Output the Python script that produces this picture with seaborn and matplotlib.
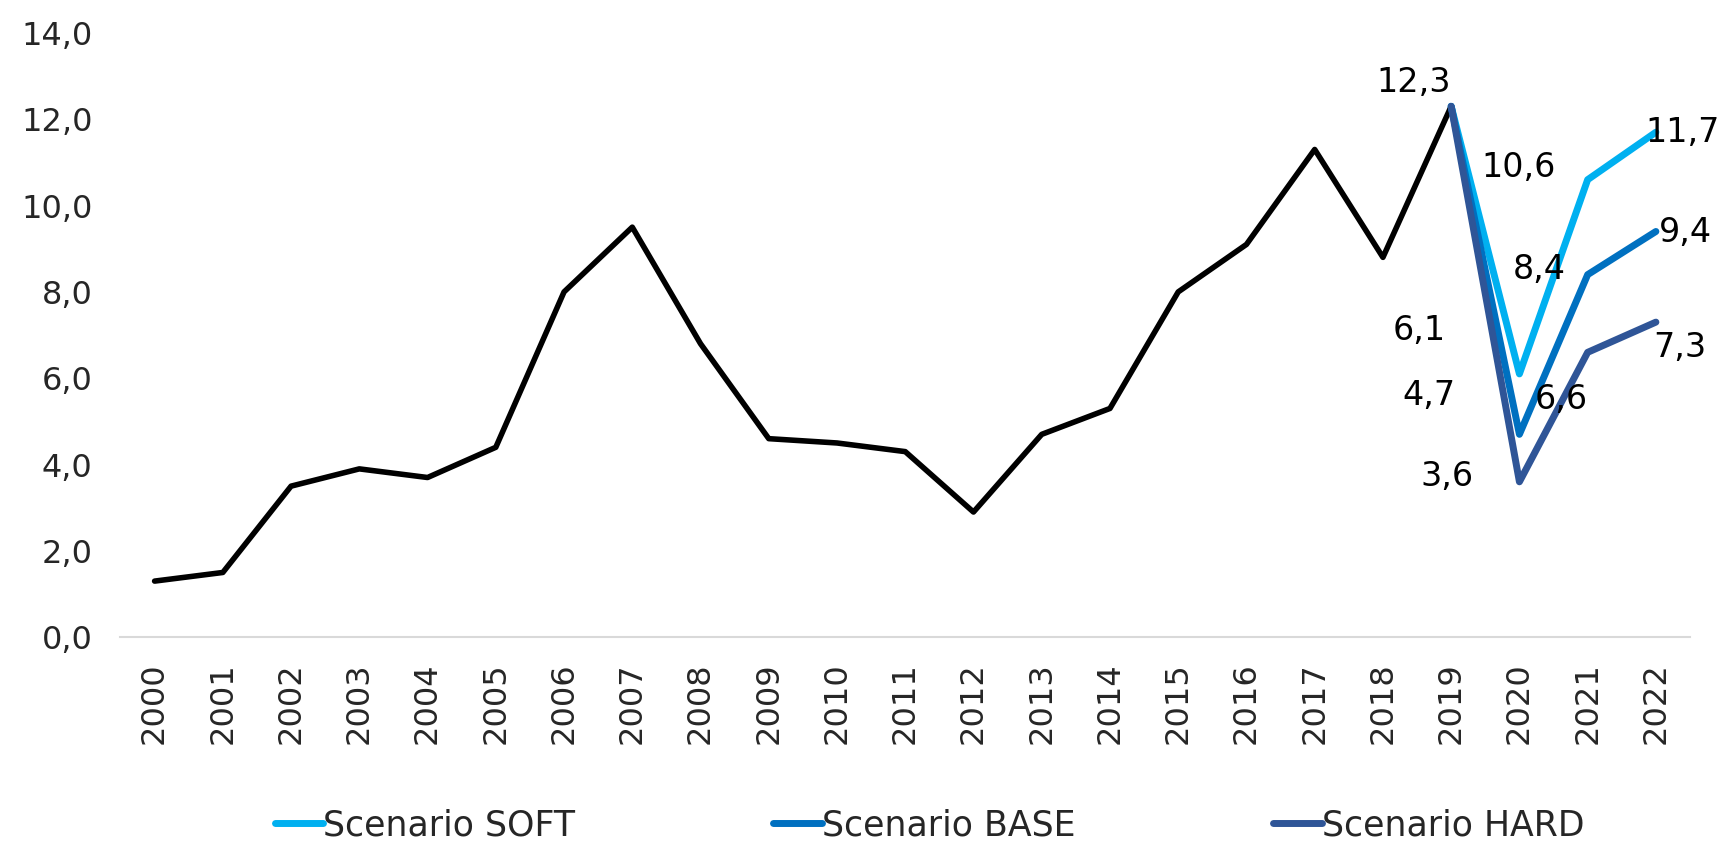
import numpy as np
import pandas as pd
import seaborn as sns
import matplotlib.pyplot as plt
from matplotlib.ticker import FuncFormatter

# historical series 2000-2019
years_hist = list(range(2000, 2020))
values_hist = [1.3, 1.5, 3.5, 3.9, 3.7, 4.4, 8.0, 9.5, 6.8, 4.6,
               4.5, 4.3, 2.9, 4.7, 5.3, 8.0, 9.1, 11.3, 8.8, 12.3]

# scenarios 2019-2022
years_scen = [2019, 2020, 2021, 2022]
soft_values = [12.3, 6.1, 10.6, 11.7]
base_values = [12.3, 4.7, 8.4, 9.4]
hard_values = [12.3, 3.6, 6.6, 7.3]
scenario_names = ["Scenario SOFT", "Scenario BASE", "Scenario HARD"]
scenario_colors = ["#00B0F0", "#0070C0", "#2F5597"]

sns.set_theme(style="white")
plt.rcParams['font.family'] = ['DejaVu Sans']

hist_df = pd.DataFrame({"year": years_hist, "value": values_hist})
scen_df = pd.concat([
    pd.DataFrame({"year": years_scen, "value": v, "scenario": n})
    for n, v in zip(scenario_names, [soft_values, base_values, hard_values])
], ignore_index=True)

fig = plt.figure(figsize=(17.21, 8.44), dpi=100)
ax = fig.add_axes([0.070, 0.245, 0.912, 0.716])

sns.lineplot(data=hist_df, x="year", y="value", color="black", linewidth=4,
             ax=ax, legend=False)
sns.lineplot(data=scen_df, x="year", y="value", hue="scenario",
             hue_order=scenario_names, palette=scenario_colors, linewidth=5,
             ax=ax, solid_capstyle="round")

ax.set_xlim(1999.5, 2022.5)
ax.set_ylim(0, 14)
ax.set_xticks(range(2000, 2023))
ax.set_xticklabels([str(y) for y in range(2000, 2023)], rotation=90, fontsize=23)
ax.set_yticks(np.arange(0, 15, 2))
ax.yaxis.set_major_formatter(FuncFormatter(lambda v, p: f"{v:.1f}".replace(".", ",")))
ax.tick_params(axis="y", labelsize=23, pad=14)
ax.tick_params(axis="x", pad=12)
ax.set_xlabel("")
ax.set_ylabel("")
for s in ["top", "right", "left"]:
    ax.spines[s].set_visible(False)
ax.spines["bottom"].set_color("#D9D9D9")
ax.spines["bottom"].set_linewidth(1.5)

# data labels (value, year, offset in points)
labels = [
    (12.3, 2019, (-27, 17)),
    (soft_values[1], 2020, (-72, 31)),
    (soft_values[2], 2021, (-50, 9)),
    (soft_values[3], 2022, (19, 0)),
    (base_values[1], 2020, (-65, 28)),
    (base_values[2], 2021, (-35, 4)),
    (base_values[3], 2022, (21, -1)),
    (hard_values[1], 2020, (-52, 4)),
    (hard_values[2], 2021, (-19, -34)),
    (hard_values[3], 2022, (17, -18)),
]
for val, yr, off in labels:
    ax.annotate(f"{val:.1f}".replace(".", ","), xy=(yr, val), xytext=off,
                textcoords="offset points", ha="center", va="center",
                fontsize=24, color="black")

leg = ax.legend(loc="lower center", ncol=3, frameon=False,
                fontsize=25, handlelength=1.4, handletextpad=0.0, columnspacing=5.7)
leg.set_bbox_to_anchor((0.54, -0.035), transform=fig.transFigure)

fig.savefig("out.png", dpi=100)
